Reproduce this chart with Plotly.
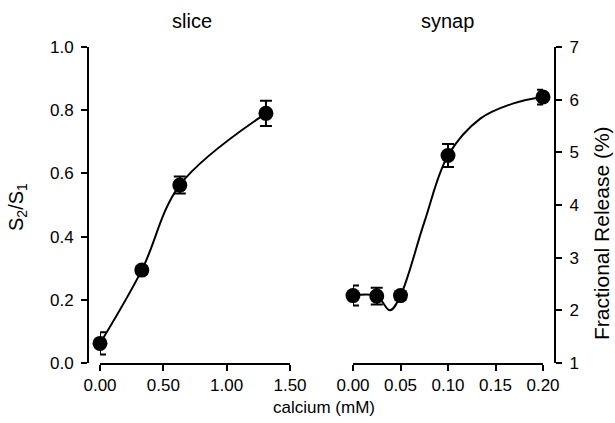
import plotly.graph_objects as go

# ---- data ----
slice_x = [0.0, 0.33, 0.63, 1.31]
slice_y = [0.062, 0.294, 0.563, 0.79]
slice_err = [0.035, 0.012, 0.027, 0.040]

synap_x = [0.0, 0.025, 0.05, 0.10, 0.20]
synap_y = [2.28, 2.27, 2.28, 4.94, 6.05]
synap_err = [0.19, 0.16, 0.08, 0.22, 0.14]

# fitted curve of the synap panel
synap_fit_x = [0.0, 0.025, 0.039, 0.05, 0.075, 0.10, 0.134, 0.169, 0.20]
synap_fit_y = [2.28, 2.27, 2.00, 2.28, 3.67, 4.94, 5.64, 5.93, 6.05]

W, H = 615, 423
FONT = "Arial, Liberation Sans, Helvetica, sans-serif"


def px(x):
    return x / W


def py(y):
    return 1 - y / H


fig = go.Figure()

# slice panel
fig.add_trace(go.Scatter(x=slice_x, y=slice_y, mode="lines",
                         line=dict(color="black", width=2, shape="spline", smoothing=1.0),
                         xaxis="x", yaxis="y", hoverinfo="skip"))
fig.add_trace(go.Scatter(x=slice_x, y=slice_y, mode="markers",
                         marker=dict(color="black", size=15),
                         error_y=dict(type="data", array=slice_err, color="black",
                                      thickness=2, width=6),
                         cliponaxis=False, xaxis="x", yaxis="y"))

# synap panel
fig.add_trace(go.Scatter(x=synap_fit_x, y=synap_fit_y, mode="lines",
                         line=dict(color="black", width=2, shape="spline", smoothing=1.0),
                         xaxis="x2", yaxis="y2", hoverinfo="skip"))
fig.add_trace(go.Scatter(x=synap_x, y=synap_y, mode="markers",
                         marker=dict(color="black", size=15),
                         error_y=dict(type="data", array=synap_err, color="black",
                                      thickness=2, width=6),
                         cliponaxis=False, xaxis="x2", yaxis="y2"))

ydom = [py(363), py(47)]
axis_common = dict(showline=True, linewidth=2, linecolor="black", ticks="outside",
                   ticklen=6, tickwidth=2, tickcolor="black", showgrid=False,
                   zeroline=False, automargin=False,
                   tickfont=dict(family=FONT, size=17, color="black"))

fig.update_layout(
    template="none",
    width=W, height=H, margin=dict(l=0, r=0, t=0, b=0, pad=0, autoexpand=False),
    paper_bgcolor="white", plot_bgcolor="white", showlegend=False,
    font=dict(family=FONT, color="black"),
    xaxis=dict(domain=[px(100), px(290)], range=[0, 1.5], anchor="y",
               tickvals=[0, 0.5, 1.0, 1.5], tickformat=".2f", **axis_common),
    yaxis=dict(domain=ydom, range=[0, 1.0], anchor="free", position=px(88),
               side="left", tickvals=[0, 0.2, 0.4, 0.6, 0.8, 1.0], tickformat=".1f",
               ticklabelstandoff=4, **axis_common),
    xaxis2=dict(domain=[px(353), px(543)], range=[0, 0.2], anchor="y2",
                tickvals=[0, 0.05, 0.10, 0.15, 0.20], tickformat=".2f", **axis_common),
    yaxis2=dict(domain=ydom, range=[1, 7], anchor="free", position=px(555),
                side="right", tickvals=[1, 2, 3, 4, 5, 6, 7], ticklabelstandoff=4,
                **axis_common),
    annotations=[
        dict(text="slice", x=px(192), y=py(21), xref="paper", yref="paper",
             xanchor="center", yanchor="middle",
             showarrow=False, font=dict(family=FONT, size=20)),
        dict(text="synap", x=px(447), y=py(21), xref="paper", yref="paper",
             xanchor="center", yanchor="middle",
             showarrow=False, font=dict(family=FONT, size=20)),
        dict(text="calcium (mM)", x=px(324), y=py(407), xref="paper", yref="paper",
             xanchor="center", yanchor="middle",
             showarrow=False, font=dict(family=FONT, size=17)),
        dict(text="S<sub>2</sub>/S<sub>1</sub>", x=px(18), y=py(207), xref="paper",
             yref="paper", xanchor="center", yanchor="middle",
             showarrow=False, textangle=-90,
             font=dict(family=FONT, size=20)),
        dict(text="Fractional Release (%)", x=px(601), y=py(233), xref="paper",
             yref="paper", xanchor="center", yanchor="middle",
             showarrow=False, textangle=-90,
             font=dict(family=FONT, size=21)),
    ],
)

fig.write_html("out.html")
